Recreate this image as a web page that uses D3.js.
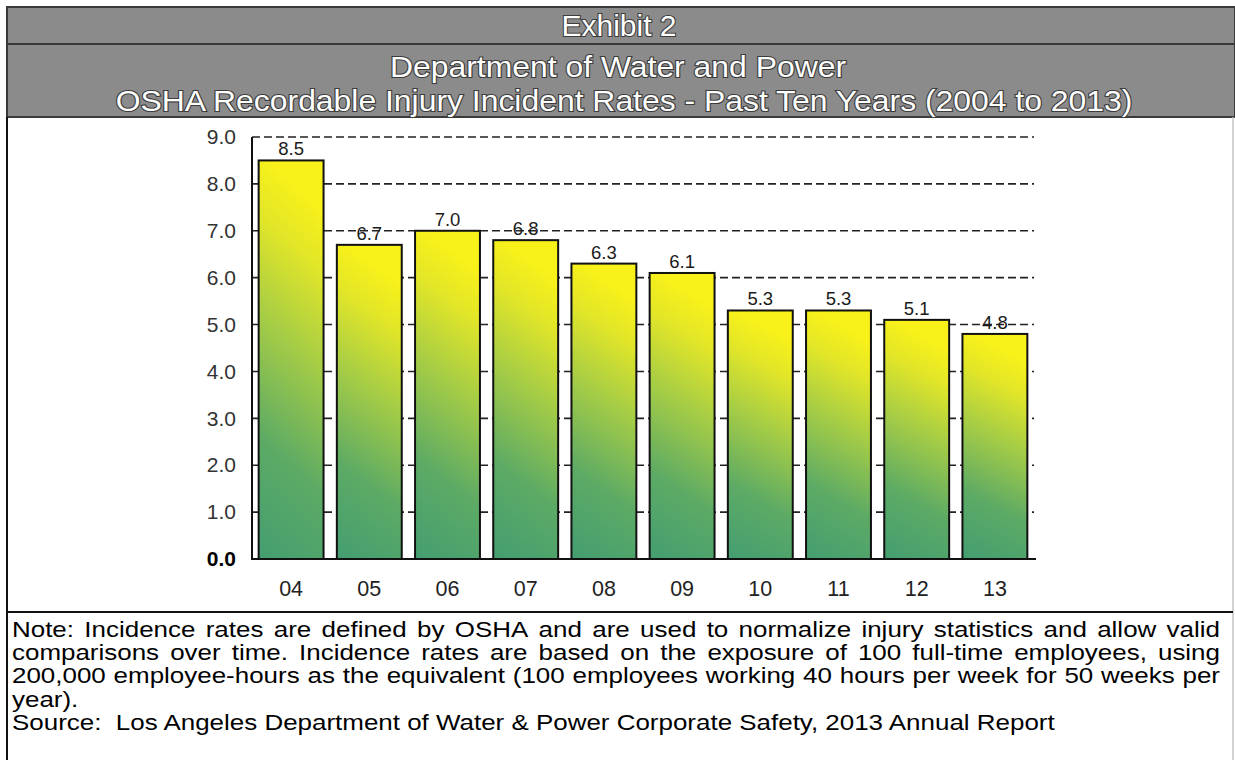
<!DOCTYPE html>
<html>
<head>
<meta charset="utf-8">
<script src="https://cdn.jsdelivr.net/npm/d3@7"></script>
<style>
  html, body { margin: 0; padding: 0; background: #fff; }
  svg { display: block; }
  text { font-family: "Liberation Sans", Arial, sans-serif; }
</style>
</head>
<body>
<svg id="chart" width="1235" height="760"></svg>
<script>
// ---- data ----
const years = ["04", "05", "06", "07", "08", "09", "10", "11", "12", "13"];
const rates = [8.5, 6.7, 7.0, 6.8, 6.3, 6.1, 5.3, 5.3, 5.1, 4.8];
const yTicks = [0, 1, 2, 3, 4, 5, 6, 7, 8, 9];
const titleLines = [
  "Exhibit 2",
  "Department of Water and Power",
  "OSHA Recordable Injury Incident Rates - Past Ten Years (2004 to 2013)"
];
const noteLines = [
  "Note: Incidence rates are defined by OSHA and are used to normalize injury statistics and allow valid",
  "comparisons over time. Incidence rates are based on the exposure of 100 full-time employees, using",
  "200,000 employee-hours as the equivalent (100 employees working 40 hours per week for 50 weeks per",
  "year).",
  "Source:\u00a0 Los Angeles Department of Water & Power Corporate Safety, 2013 Annual Report"
];
const noteJustify = [true, true, true, false, false];

// ---- drawing ----
const svg = d3.select("#chart");
svg.append("rect").attr("width", 1235).attr("height", 760).attr("fill", "#fff");

const defs = svg.append("defs");
const grad = defs.append("linearGradient").attr("id", "barGrad")
  .attr("x1", 0).attr("y1", 1).attr("x2", 0.15).attr("y2", 0);
[[0, "#449e71"], [0.3, "#5caa65"], [0.6, "#a4cc46"], [0.85, "#e2e628"], [1, "#f8f11a"]].forEach(s =>
  grad.append("stop").attr("offset", s[0]).attr("stop-color", s[1]));

// header band
svg.append("rect").attr("x", 7).attr("y", 7).attr("width", 1228).attr("height", 110)
  .attr("fill", "#8b8b8b").attr("stroke", "#3a3a3a").attr("stroke-width", 2);
svg.append("line").attr("x1", 7).attr("x2", 1235).attr("y1", 44).attr("y2", 44)
  .attr("stroke", "#3a3a3a").attr("stroke-width", 2);
const titleX = [619, 618, 624];
const titleY = [36, 77, 111];
const titleSize = [30, 29, 29];
const titleStretch = [1, 1.1, 1.1];
svg.selectAll("text.title").data(titleLines).join("text")
  .attr("class", "title")
  .attr("transform", (d, i) => `translate(${titleX[i]},${titleY[i]}) scale(${titleStretch[i]},1)`)
  .attr("text-anchor", "middle")
  .attr("font-size", (d, i) => titleSize[i])
  .attr("fill", "#fff")
  .attr("stroke", "#3c3c3c").attr("stroke-width", 2.2)
  .attr("paint-order", "stroke")
  .text(d => d);

// frame lines
svg.append("line").attr("x1", 7).attr("x2", 7).attr("y1", 117).attr("y2", 760)
  .attr("stroke", "#111").attr("stroke-width", 2);
svg.append("line").attr("x1", 1233).attr("x2", 1233).attr("y1", 117).attr("y2", 760)
  .attr("stroke", "#c4c4c4").attr("stroke-width", 1.5);
svg.append("line").attr("x1", 7).attr("x2", 1233).attr("y1", 612).attr("y2", 612)
  .attr("stroke", "#111").attr("stroke-width", 2);

// scales
const x = d3.scaleBand().domain(years).range([252, 1034]).paddingInner(0.17).paddingOuter(0.085);
const y = d3.scaleLinear().domain([0, 9]).range([559, 137]);

// gridlines
svg.append("g").selectAll("line").data(yTicks.filter(t => t > 0)).join("line")
  .attr("x1", 252).attr("x2", 1034)
  .attr("y1", d => y(d)).attr("y2", d => y(d))
  .attr("stroke", "#222").attr("stroke-width", 1.6)
  .attr("stroke-dasharray", "8,4");

// bars
svg.append("g").selectAll("rect").data(rates).join("rect")
  .attr("x", (d, i) => x(years[i]))
  .attr("width", x.bandwidth())
  .attr("y", d => y(d))
  .attr("height", d => y(0) - y(d))
  .attr("fill", "url(#barGrad)")
  .attr("stroke", "#111").attr("stroke-width", 2);

// bar labels
svg.append("g").selectAll("text").data(rates).join("text")
  .attr("x", (d, i) => x(years[i]) + x.bandwidth() / 2)
  .attr("y", d => y(d) - 5)
  .attr("text-anchor", "middle")
  .attr("font-size", 18.5)
  .attr("fill", "#1a1a1a")
  .text(d => d.toFixed(1));

// axes
const yAxis = svg.append("g").attr("transform", "translate(252,0)")
  .call(d3.axisLeft(y).tickValues(yTicks).tickSize(0).tickPadding(16).tickFormat(d3.format(".1f")));
yAxis.select(".domain").remove();
yAxis.selectAll("text").attr("font-size", 21)
  .attr("font-family", "Liberation Sans, Arial, sans-serif")
  .attr("font-weight", d => d === 0 ? "bold" : "normal")
  .attr("fill", d => d === 0 ? "#000" : "#333");

const xAxis = svg.append("g").attr("transform", "translate(0,559)")
  .call(d3.axisBottom(x).tickSize(0).tickPadding(22));
xAxis.select(".domain").remove();
xAxis.selectAll("text").attr("font-size", 21.5).attr("fill", "#222")
  .attr("font-family", "Liberation Sans, Arial, sans-serif");

svg.append("line").attr("x1", 252).attr("x2", 252).attr("y1", 137).attr("y2", 560)
  .attr("stroke", "#111").attr("stroke-width", 2);
svg.append("line").attr("x1", 251).attr("x2", 1036).attr("y1", 559).attr("y2", 559)
  .attr("stroke", "#111").attr("stroke-width", 2);

// note text (justified, slightly wide face as in the scan)
const noteLeft = 12, noteRight = 1220, noteSize = 22, stretch = 1.18;
const noteG = svg.append("g").attr("transform", `translate(${noteLeft},0) scale(${stretch},1)`);
const avail = (noteRight - noteLeft) / stretch;
noteLines.forEach((line, li) => {
  const baseY = 637 + li * 23.2;
  if (!noteJustify[li]) {
    noteG.append("text").attr("x", 0).attr("y", baseY)
      .attr("font-size", noteSize).attr("fill", "#000").attr("xml:space", "preserve")
      .text(line);
    return;
  }
  const words = line.split(" ");
  const nodes = words.map(w => noteG.append("text").attr("y", baseY)
    .attr("font-size", noteSize).attr("fill", "#000").text(w));
  const widths = nodes.map(n => n.node().getComputedTextLength());
  const total = d3.sum(widths);
  const gap = (avail - total) / (words.length - 1);
  let cx = 0;
  nodes.forEach((n, i) => { n.attr("x", cx); cx += widths[i] + gap; });
});
</script>
</body>
</html>
